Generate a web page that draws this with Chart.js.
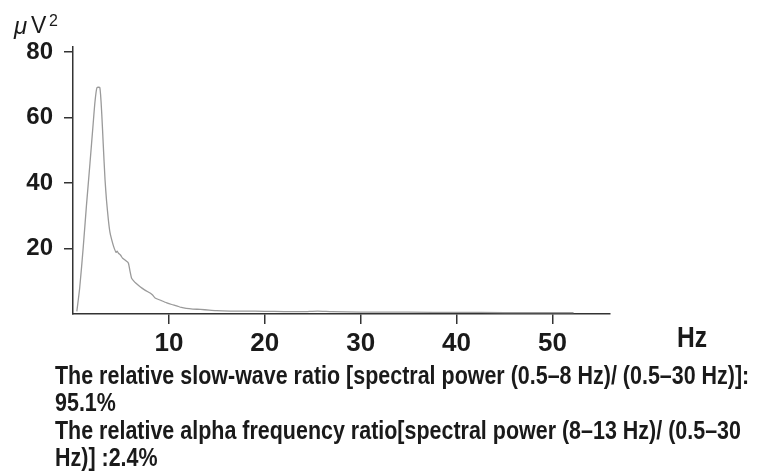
<!DOCTYPE html>
<html>
<head>
<meta charset="utf-8">
<script src="https://cdn.jsdelivr.net/npm/chart.js@4.4.1/dist/chart.umd.min.js"></script>
<style>
  html, body { margin: 0; padding: 0; background: #fff; }
  #wrap { position: relative; width: 774px; height: 471px; overflow: hidden; }
  #note {
    position: absolute; left: 55px; top: 362px;
    font-family: 'Liberation Sans', Arial, sans-serif;
    font-weight: bold; font-size: 26.5px; line-height: 27.3px; color: #1a1a1a;
    white-space: nowrap;
    transform: scaleX(0.81); transform-origin: 0 0;
  }
</style>
</head>
<body>
<div id="wrap">
  <canvas id="psd" width="774" height="471"></canvas>
  <div id="note">
    The relative slow-wave ratio [spectral power (0.5–8 Hz)/ (0.5–30 Hz)]:<br>
    95.1%<br>
    The relative alpha frequency ratio[spectral power (8–13 Hz)/ (0.5–30<br>
    Hz)] :2.4%
  </div>
</div>
<script>
// spectrum (Hz, µV²)
var freqHz = [0.4, 0.7, 1.07, 1.4, 1.77, 2.1, 2.3, 2.5, 2.8, 3.0, 3.15, 3.34, 3.5, 3.69, 3.85, 4.04,
  4.25, 4.49, 4.6, 4.73, 4.95, 5.18, 5.5, 5.77, 5.95, 6.1, 6.3, 6.6, 7.0, 7.5, 8.04, 8.3, 8.56,
  9.2, 9.78, 10.3, 10.8, 11.3, 11.8, 12.5, 13.3, 14.2, 15, 16.4, 18, 20, 22, 24, 25.5, 27, 30,
  35, 40, 45, 52.2];
var powerUV2 = [0.8, 8, 20.5, 33, 46, 58, 65, 69.1, 69.1, 61, 52, 41, 34.5, 28.7, 25, 22.6,
  20.5, 18.8, 19.2, 18.6, 18, 17, 16.3, 15.6, 13, 11, 10.2, 9.3, 8.3, 7.3, 6.4, 5.8, 4.9,
  4.1, 3.4, 2.9, 2.5, 2.0, 1.7, 1.5, 1.4, 1.2, 1.0, 0.9, 0.9, 0.8, 0.75, 0.7, 0.9, 0.7, 0.6,
  0.55, 0.5, 0.45, 0.4];
var xTicks = [10, 20, 30, 40, 50];
var yTicks = [20, 40, 60, 80];

var sans = "'Liberation Sans', Arial, sans-serif";
var axisColor = '#333';

var points = freqHz.map(function (f, i) { return { x: f, y: powerUV2[i] }; });

var unitLabels = {
  id: 'unitLabels',
  afterDraw: function (chart) {
    var ctx = chart.ctx, area = chart.chartArea;
    ctx.save();
    ctx.fillStyle = '#1a1a1a';
    ctx.textBaseline = 'alphabetic';
    // µV² above the y axis
    ctx.font = 'italic 24px ' + sans;
    ctx.fillText('μ', 14, 34);
    ctx.font = '23px ' + sans;
    ctx.fillText('V', 31, 33);
    ctx.font = '16px ' + sans;
    ctx.fillText('2', 49, 26);
    // Hz at the right of the x axis, narrowed like the figure's font
    ctx.translate(area.right + 67, 347);
    ctx.scale(0.82, 1);
    ctx.font = 'bold 30px ' + sans;
    ctx.fillText('Hz', 0, 0);
    ctx.restore();
  }
};

new Chart(document.getElementById('psd').getContext('2d'), {
  type: 'line',
  data: {
    datasets: [{
      data: points,
      borderColor: '#9a9a9a',
      borderWidth: 1.3,
      pointRadius: 0,
      tension: 0.2,
      fill: false
    }]
  },
  options: {
    responsive: false,
    animation: false,
    layout: { padding: { left: 0, top: 47, right: 164, bottom: 107 } },
    plugins: { legend: { display: false }, tooltip: { enabled: false } },
    scales: {
      x: {
        type: 'linear',
        min: 0,
        max: 56,
        afterFit: function (s) { s.height = 50; },
        afterBuildTicks: function (s) { s.ticks = xTicks.map(function (v) { return { value: v }; }); },
        grid: { drawOnChartArea: false, drawTicks: true, tickLength: 10, color: axisColor, lineWidth: 1.5 },
        border: { display: true, color: axisColor, width: 1.5 },
        ticks: { color: '#1a1a1a', padding: 4, maxRotation: 0, font: { family: sans, size: 26, weight: 'bold' } }
      },
      y: {
        min: 0,
        max: 81.5,
        afterFit: function (s) { s.width = 73; },
        afterBuildTicks: function (s) { s.ticks = yTicks.map(function (v) { return { value: v }; }); },
        grid: { drawOnChartArea: false, drawTicks: true, tickLength: 9, color: axisColor, lineWidth: 1.5 },
        border: { display: true, color: axisColor, width: 1.5 },
        ticks: { color: '#1a1a1a', padding: 11, font: { family: sans, size: 24, weight: 'bold' } }
      }
    }
  },
  plugins: [unitLabels]
});
</script>
</body>
</html>
